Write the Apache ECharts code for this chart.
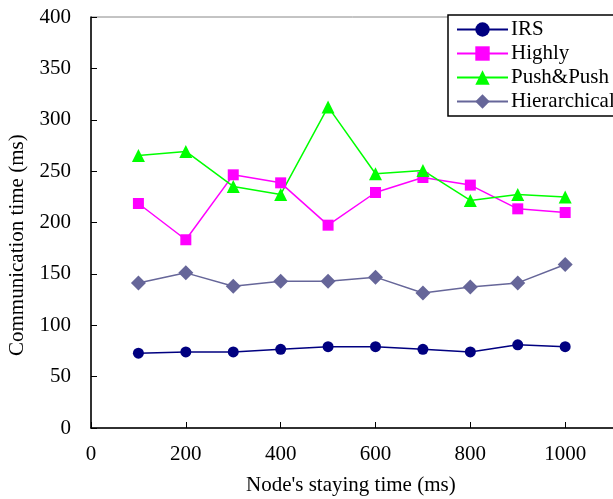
<!DOCTYPE html>
<html><head><meta charset="utf-8">
<script src="https://cdn.jsdelivr.net/npm/echarts@6/dist/echarts.min.js"></script>
<style>html,body{margin:0;padding:0;background:#fff;}#c{width:613px;height:499px;}</style>
</head><body><div id="c"></div>
<script>
const xValues = [100, 200, 300, 400, 500, 600, 700, 800, 900, 1000];
const irs = [72.8, 74, 74, 76.6, 79.1, 79.1, 76.6, 74, 81, 79.1];
const highly = [218.5, 183.2, 246.4, 238.6, 197.4, 229.2, 243.8, 236.4, 213.3, 209.7];
const pushPush = [265.3, 269.2, 235.1, 227.3, 312.5, 247.5, 250.7, 221.5, 227.3, 224.7];
const hierarchical = [141.2, 151, 138, 142.9, 142.9, 146.8, 131.4, 137.3, 141.2, 159.1];
const seriesNames = ['IRS', 'Highly', 'Push&Push', 'Hierarchical'];
const xTitle = "Node's staying time (ms)";
const yTitle = 'Communication time (ms)';

const FONT = '"Liberation Serif", "DejaVu Serif", serif';
const FS = 21;
const pairs = arr => xValues.map((x, i) => [x, arr[i]]);
const mk = (name, data, color, symbol, size) => ({
  name, type: 'line', data: pairs(data), symbol, symbolSize: size,
  lineStyle: { color, width: 1.5 }, itemStyle: { color },
  emphasis: { disabled: true }, animation: false, clip: false
});
const chart = echarts.init(document.getElementById('c'), null, { renderer: 'canvas' });
chart.setOption({
  backgroundColor: '#fff',
  animation: false,
  grid: { left: 91, top: 17, width: 569, height: 411, show: true, borderColor: '#888', borderWidth: 1, containLabel: false, outerBoundsMode: 'none' },
  xAxis: {
    type: 'value', min: 0, max: 1200, interval: 200,
    axisLine: { show: true, lineStyle: { color: '#000', width: 1.5 } },
    axisTick: { show: true, inside: true, length: 6, lineStyle: { color: '#000' } },
    axisLabel: { color: '#000', fontFamily: FONT, fontSize: FS, margin: 16, formatter: v => String(v) },
    splitLine: { show: false }
  },
  yAxis: {
    type: 'value', min: 0, max: 400, interval: 50,
    axisLine: { show: true, lineStyle: { color: '#000', width: 1.5 } },
    axisTick: { show: true, inside: true, length: 6, lineStyle: { color: '#000' } },
    axisLabel: { color: '#000', fontFamily: FONT, fontSize: FS, margin: 20, formatter: v => String(v) },
    splitLine: { show: false }
  },
  legend: {
    orient: 'vertical', left: 448, top: 15,
    data: seriesNames,
    itemWidth: 51, itemHeight: 18, itemGap: 3,
    padding: [4, 6, 4, 8],
    backgroundColor: '#fff', borderColor: '#000', borderWidth: 1.5,
    textStyle: { color: '#000', fontFamily: FONT, fontSize: FS, padding: [0, 0, 0, -2] }
  },
  graphic: [
    { type: 'text', left: 246, top: 475, style: { text: xTitle, fontFamily: FONT, fontSize: FS, fill: '#000' } },
    { type: 'text', rotation: Math.PI / 2, x: 7, y: 356, style: { text: yTitle, fontFamily: FONT, fontSize: FS, fill: '#000' } }
  ],
  series: [
    mk(seriesNames[0], irs, '#000080', 'circle', 11),
    mk(seriesNames[1], highly, '#FF00FF', 'rect', 11),
    mk(seriesNames[2], pushPush, '#00FF00', 'triangle', 13),
    mk(seriesNames[3], hierarchical, '#666699', 'diamond', 15)
  ]
});
</script></body></html>
